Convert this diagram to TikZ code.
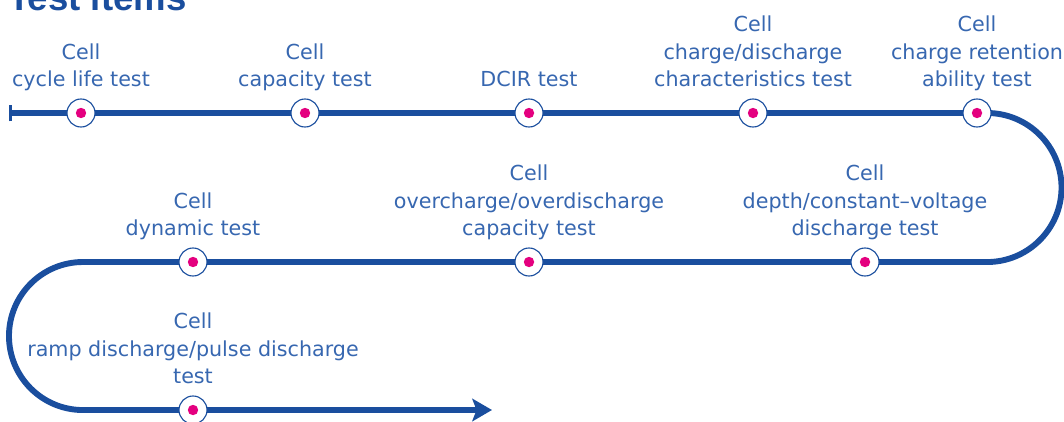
\documentclass[tikz,border=0pt]{standalone}
\usepackage{fontspec}
\usetikzlibrary{positioning,arrows.meta}
\newfontfamily\labfont{DejaVu Sans}
\newfontfamily\headfont{Liberation Sans}
\definecolor{trackblue}{HTML}{1A4E9E}
\definecolor{textblue}{HTML}{3767B0}
\definecolor{dotpink}{HTML}{E4007F}

\begin{document}
\begin{tikzpicture}[x=0.025cm,y=-0.025cm,
  track/.style={draw=trackblue,line width=4.2pt},
  stop/.style={circle,draw=trackblue,line width=0.8pt,fill=white,minimum size=0.7cm,inner sep=0pt,
    path picture={\fill[dotpink] (path picture bounding box.center) circle (0.13cm);}},
  lab/.style={align=center,text=textblue,inner sep=0pt,outer sep=0pt,
    font=\labfont\fontsize{14.7}{19.5}\selectfont,execute at end node=\strut}]
\useasboundingbox (0,0) rectangle (1064,421);
\node[anchor=base west,inner sep=0pt,text=trackblue,font=\headfont\bfseries\fontsize{26}{30}\selectfont] (head) at (8,10.5) {Test items};
\coordinate (start) at (9,113);
\coordinate (turnA) at (987,113);
\coordinate (turnB) at (83,262);
\coordinate (finish) at (492,410);
\draw[track,{Bar[width=12pt,line width=2pt]}-{Stealth[length=14pt,width=16pt,inset=3pt]}] (start) -- (turnA) arc(90:-90:1.8625cm) -- (turnB) arc(90:270:1.85cm) -- (finish);
\node[stop] (T1) at (81,113) {};
\node[stop] (T2) at (305,113) {};
\node[stop] (T3) at (529,113) {};
\node[stop] (T4) at (753,113) {};
\node[stop] (T5) at (977,113) {};
\node[stop] (T6) at (865,262) {};
\node[stop] (T7) at (529,262) {};
\node[stop] (T8) at (193,262) {};
\node[stop] (T9) at (193,410) {};
\node[lab,above=0.09cm of T1] (L1) {Cell\\cycle life test};
\node[lab,above=0.09cm of T2] (L2) {Cell\\capacity test};
\node[lab,above=0.09cm of T3] (L3) {DCIR test};
\node[lab,above=0.09cm of T4] (L4) {Cell\\charge/discharge\\characteristics test};
\node[lab,above=0.09cm of T5] (L5) {Cell\\charge retention\\ability test};
\node[lab,above=0.09cm of T6] (L6) {Cell\\depth/constant–voltage\\discharge test};
\node[lab,above=0.09cm of T7] (L7) {Cell\\overcharge/overdischarge\\capacity test};
\node[lab,above=0.09cm of T8] (L8) {Cell\\dynamic test};
\node[lab,above=0.09cm of T9] (L9) {Cell\\ramp discharge/pulse discharge\\test};
\end{tikzpicture}
\end{document}
